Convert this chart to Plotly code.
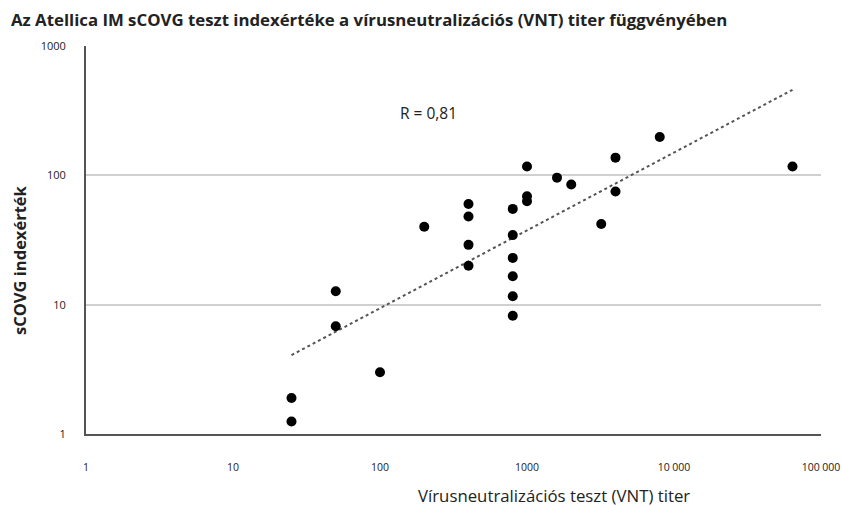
import numpy as np
import plotly.graph_objects as go

# Data (VNT titer vs sCOVG index)
vnt_titer = [25, 25, 50, 50, 100, 200, 400, 400, 400, 400,
             800, 800, 800, 800, 800, 800,
             1000, 1000, 1000, 1600, 2000, 3200, 4000, 4000, 8000, 64000]
scovg_index = [1.9, 1.25, 12.7, 6.8, 3.0, 40, 60, 48, 29, 20,
               55, 34.5, 23, 16.6, 11.6, 8.2,
               117, 69, 63, 96, 85, 42, 137, 75, 198, 117]

x_tickvals = [1, 10, 100, 1000, 10000, 100000]
x_ticktext = ["1", "10", "100", "1000", "10 000", "100 000"]
y_tickvals = [1, 10, 100, 1000]
y_ticktext = ["1", "10", "100", "1000"]

title_text = "Az Atellica IM sCOVG teszt indexértéke a vírusneutralizációs (VNT) titer függvényében"
x_title = "Vírusneutralizációs teszt (VNT) titer"
y_title = "sCOVG indexérték"
r_label = "R = 0,81"

# Power trendline (linear regression in log-log space)
lx = np.log10(vnt_titer)
ly = np.log10(scovg_index)
b, a = np.polyfit(lx, ly, 1)
tx = np.array([min(vnt_titer), max(vnt_titer)], dtype=float)
ty = 10 ** (a + b * np.log10(tx))

font_family = "Open Sans, Noto Sans, DejaVu Sans, sans-serif"

W, H = 842, 506
ML, MR, MT, MB = 86, 21, 46, 72
pw = W - ML - MR
ph = H - MT - MB


def px2paper(px, py):
    return (px - ML) / pw, (H - MB - py) / ph


fig = go.Figure()
fig.add_trace(go.Scatter(
    x=tx, y=ty, mode="lines",
    line=dict(color="#555555", width=2, dash="dot"),
    hoverinfo="skip", showlegend=False))
fig.add_trace(go.Scatter(
    x=vnt_titer, y=scovg_index, mode="markers",
    marker=dict(color="black", size=10),
    showlegend=False))

anns = []
for text, (px, py), size, xa, ang in [
    ("<b>" + title_text + "</b>", (9, 19), 16.8, "left", 0),
    (x_title, (554, 496), 16.8, "center", 0),
    ("<b>" + y_title + "</b>", (19, 260), 16.5, "center", -90),
    (r_label, (428, 113), 15.5, "center", 0),
]:
    xp, yp = px2paper(px, py)
    anns.append(dict(text=text, x=xp, y=yp, xref="paper", yref="paper",
                     showarrow=False, xanchor=xa, yanchor="middle",
                     textangle=ang,
                     font=dict(size=size, color="#222222")))

fig.update_layout(
    width=W, height=H,
    margin=dict(l=ML, r=MR, t=MT, b=MB, autoexpand=False),
    paper_bgcolor="white", plot_bgcolor="white",
    font=dict(family=font_family, color="#222222"),
    showlegend=False,
    annotations=anns,
)

fig.update_xaxes(
    type="log", range=[0, 5], automargin=False,
    tickvals=x_tickvals, ticktext=x_ticktext,
    showgrid=False, zeroline=False,
    showline=True, linecolor="#555555", linewidth=2,
    ticks="", ticklabelstandoff=22,
    tickfont=dict(size=10.5, color="#222222"),
)
fig.update_yaxes(
    type="log", range=[0, 3], automargin=False,
    tickvals=y_tickvals, ticktext=y_ticktext,
    showgrid=True, gridcolor="#d0d0d0", gridwidth=1.5,
    zeroline=False,
    showline=True, linecolor="#555555", linewidth=2,
    ticks="", ticklabelstandoff=16,
    tickfont=dict(size=11, color="#222222"),
)

fig.write_html("out.html",
               config={"displayModeBar": False},
               post_script="document.body.style.margin='0px';"
                           "document.body.style.overflow='hidden';")
